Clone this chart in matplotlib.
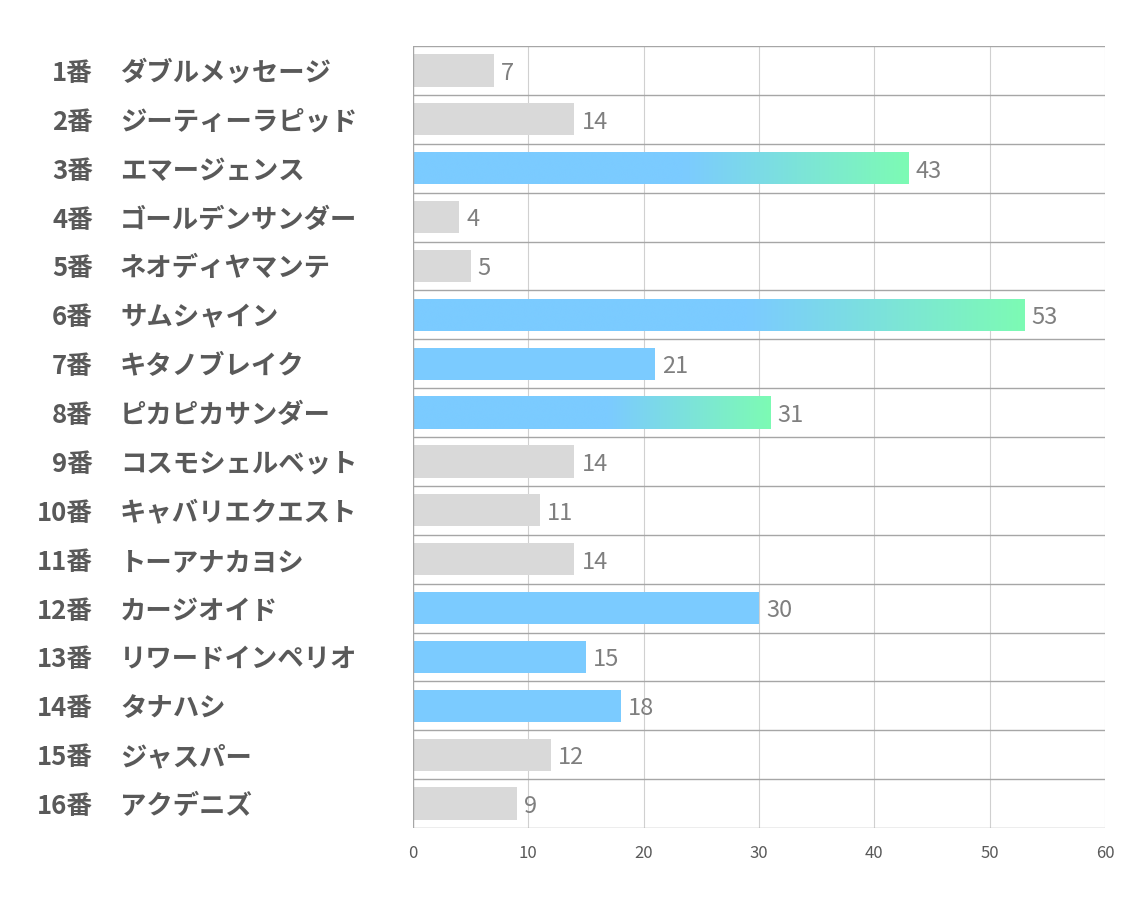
import numpy as np
import matplotlib
matplotlib.use("Agg")
import matplotlib.pyplot as plt
from matplotlib.colors import LinearSegmentedColormap

plt.rcParams['font.family'] = ['Noto Sans CJK JP', 'DejaVu Sans']

numbers = ['1番', '2番', '3番', '4番', '5番', '6番', '7番', '8番',
           '9番', '10番', '11番', '12番', '13番', '14番', '15番', '16番']
names = ['ダブルメッセージ', 'ジーティーラピッド', 'エマージェンス', 'ゴールデンサンダー',
         'ネオディヤマンテ', 'サムシャイン', 'キタノブレイク', 'ピカピカサンダー',
         'コスモシェルベット', 'キャバリエクエスト', 'トーアナカヨシ', 'カージオイド',
         'リワードインペリオ', 'タナハシ', 'ジャスパー', 'アクデニズ']
values = [7, 14, 43, 4, 5, 53, 21, 31, 14, 11, 14, 30, 15, 18, 12, 9]
# 0 = grey, 1 = blue, 2 = blue with green gradient
kind = [0, 0, 2, 0, 0, 2, 1, 2, 0, 0, 0, 1, 1, 1, 0, 0]

GREY = '#D9D9D9'
BLUE = '#7BCBFF'
GREEN = '#7DFBB4'
grad = LinearSegmentedColormap.from_list('g', [(0, BLUE), (0.55, BLUE), (1, GREEN)], N=256)

fig = plt.figure(figsize=(11.34, 9.07), dpi=100)
ax = fig.add_axes([413 / 1134, 1 - 828 / 907, (1105 - 413) / 1134, (828 - 46) / 907])

n = len(values)
h = 0.66
ax.set_xlim(0, 60)
ax.set_ylim(n - 0.5, -0.5)

for i, (v, k) in enumerate(zip(values, kind)):
    color = GREY if k == 0 else BLUE
    bar = ax.barh(i, v, height=h, color=color, zorder=2)[0]
    if k == 2:
        g = np.linspace(0, 1, 256).reshape(1, -1)
        im = ax.imshow(g, cmap=grad, aspect='auto', extent=(0, v, i + h / 2, i - h / 2),
                       zorder=3, interpolation='bicubic')
        im.set_clip_path(bar)
    ax.text(v + 0.6, i + 0.06, str(v), va='center', ha='left', fontsize=17,
            color='#7F7F7F', zorder=4)

ax.set_xlim(0, 60)
ax.set_ylim(n - 0.5, -0.5)

ax.set_xticks(np.arange(0, 61, 10))
for xv in np.arange(10, 61, 10):
    ax.axvline(xv, color='#D0D0D0', lw=0.8, zorder=1)
for yb in np.arange(-0.5, n, 1.0):
    ax.axhline(yb, color='#A6A6A6', lw=1.0, zorder=1)
ax.axvline(0, color='#A6A6A6', lw=1.0, zorder=5)

for s in ax.spines.values():
    s.set_visible(False)
ax.tick_params(axis='x', length=0, labelsize=12, labelcolor='#595959', pad=12)
ax.set_yticks([])

# row labels
for i in range(n):
    yf = ax.transData.transform((0, i))[1]
    yfig = (yf - 3) / fig.bbox.height
    fig.text(93 / 1134, yfig, numbers[i], ha='right', va='center', fontsize=18.5,
             fontweight='bold', color='#595959')
    fig.text(120 / 1134, yfig, names[i], ha='left', va='center', fontsize=19,
             fontweight='bold', color='#595959')

fig.savefig('out.png', dpi=100, facecolor='white')
